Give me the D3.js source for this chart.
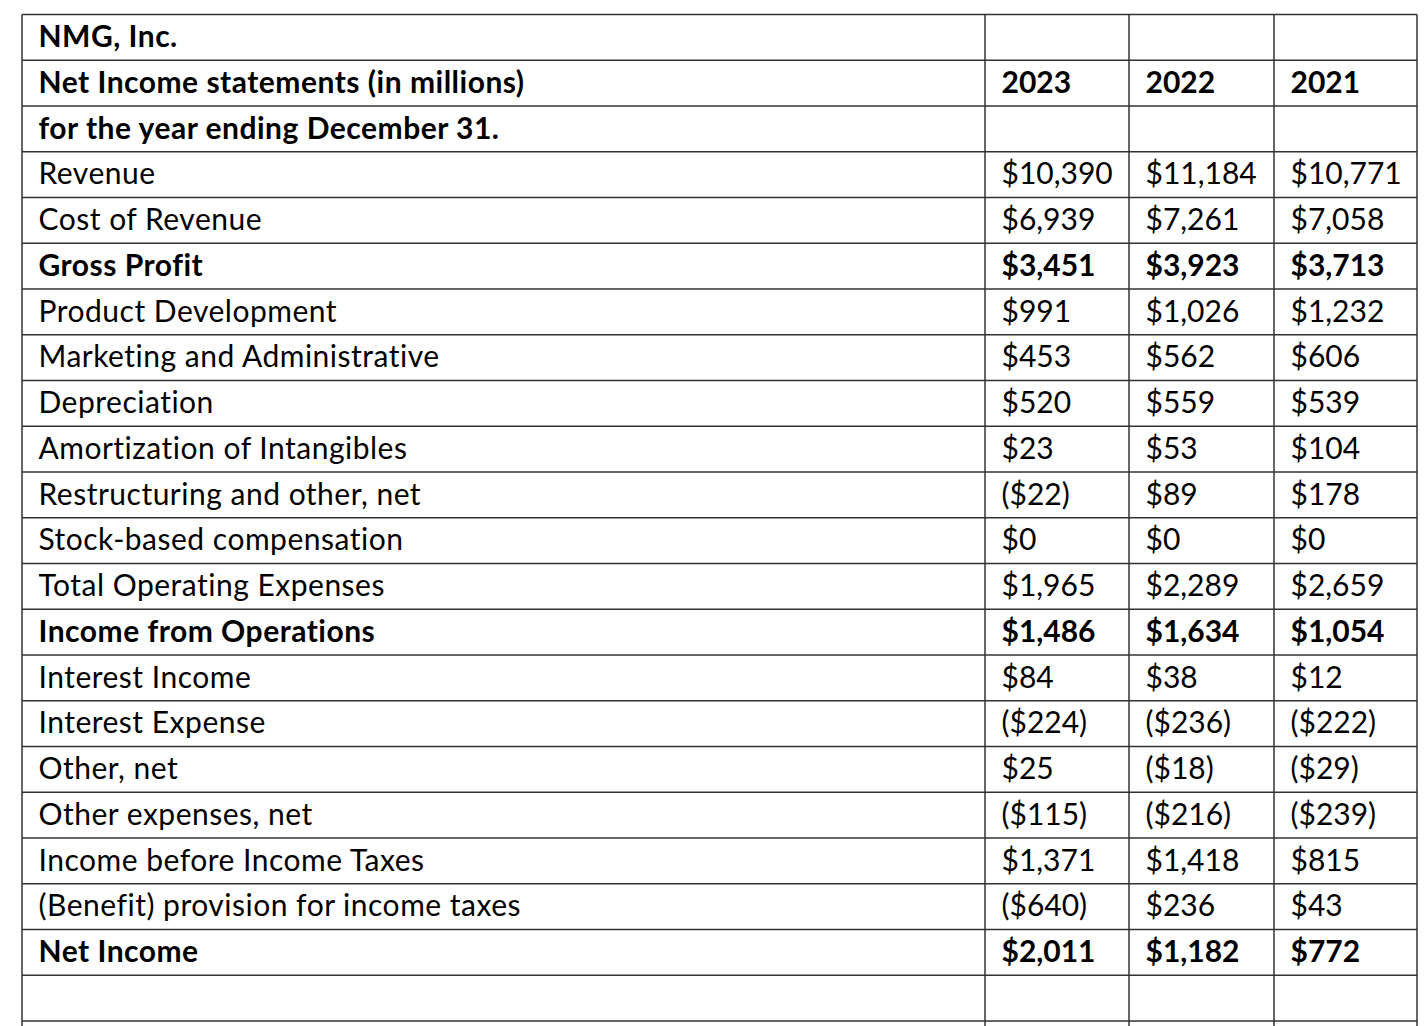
<!DOCTYPE html>
<html>
<head>
<meta charset="utf-8">
<script src="https://cdn.jsdelivr.net/npm/d3@7"></script>
<style>
  html, body { margin: 0; padding: 0; background: #fff; }
  svg { display: block; }
  text { font-family: Lato, "Open Sans", sans-serif; fill: #000; font-variant-ligatures: none; }
</style>
</head>
<body>
<svg id="chart" width="1426" height="1026"></svg>
<script>
// ---- data ----
const titleLines = ["NMG, Inc.", "Net Income statements (in millions)", "for the year ending December 31."];
const years = ["2023", "2022", "2021"];
const lineItems = [
  "Revenue", "Cost of Revenue", "Gross Profit", "Product Development",
  "Marketing and Administrative", "Depreciation", "Amortization of Intangibles",
  "Restructuring and other, net", "Stock-based compensation", "Total Operating Expenses",
  "Income from Operations", "Interest Income", "Interest Expense", "Other, net",
  "Other expenses, net", "Income before Income Taxes",
  "(Benefit) provision for income taxes", "Net Income"
];
const values2023 = [10390, 6939, 3451, 991, 453, 520, 23, -22, 0, 1965, 1486, 84, -224, 25, -115, 1371, -640, 2011];
const values2022 = [11184, 7261, 3923, 1026, 562, 559, 53, 89, 0, 2289, 1634, 38, -236, -18, -216, 1418, 236, 1182];
const values2021 = [10771, 7058, 3713, 1232, 606, 539, 104, 178, 0, 2659, 1054, 12, -222, -29, -239, 815, 43, 772];
const boldItems = ["Gross Profit", "Income from Operations", "Net Income"];

// ---- layout ----
const svg = d3.select("#chart");
const tableTop = 14.5, rowH = 45.75;
const colEdges = [22, 985, 1129, 1274, 1417];
const nRows = titleLines.length + lineItems.length + 2; // + empty rows at bottom
const y = d3.scaleLinear().domain([0, nRows]).range([tableTop, tableTop + nRows * rowH]);
const baseOff = 32.5, padX = 16.5;

const fmt = d3.format(",");
const money = v => v < 0 ? `($${fmt(-v)})` : `$${fmt(v)}`;

// rows data
const rows = [];
titleLines.forEach((t, i) => rows.push({ label: t, bold: true, cells: i === 1 ? years : ["", "", ""], cellBold: true }));
lineItems.forEach((t, i) => {
  const b = boldItems.includes(t);
  rows.push({ label: t, bold: b, cells: [values2023[i], values2022[i], values2021[i]].map(money), cellBold: b });
});

// grid lines
const g = svg.append("g");
const stroke = "#333";
g.selectAll("line.h").data(d3.range(nRows + 1)).join("line")
  .attr("x1", colEdges[0]).attr("x2", colEdges[colEdges.length - 1])
  .attr("y1", d => y(d)).attr("y2", d => y(d))
  .attr("stroke", stroke).attr("stroke-width", 1.5);
g.selectAll("line.v").data(colEdges).join("line")
  .attr("x1", d => d).attr("x2", d => d)
  .attr("y1", y(0)).attr("y2", y(nRows))
  .attr("stroke", stroke).attr("stroke-width", 1.5);

// labels
const tg = svg.append("g");
tg.selectAll("text.label").data(rows).join("text")
  .attr("class", "label")
  .attr("x", colEdges[0] + padX)
  .attr("y", (d, i) => y(i) + baseOff)
  .attr("font-size", 30)
  .attr("letter-spacing", 0.5)
  .attr("font-weight", d => d.bold ? 700 : 400)
  .text(d => d.label);

rows.forEach((r, i) => {
  tg.append("g").selectAll("text").data(r.cells).join("text")
    .attr("x", (d, j) => colEdges[j + 1] + padX)
    .attr("y", y(i) + baseOff)
    .attr("font-size", 30)
    .attr("font-weight", r.cellBold ? 700 : 400)
    .text(d => d);
});
</script>
</body>
</html>
